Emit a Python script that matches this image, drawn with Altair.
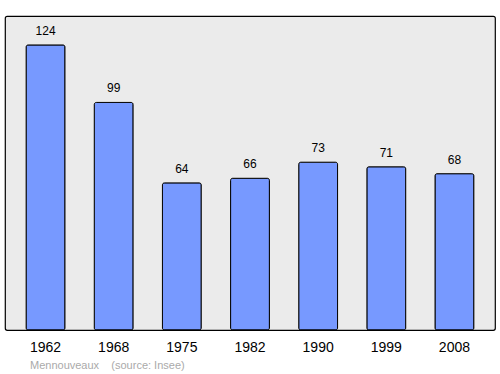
import altair as alt
import pandas as pd

years = ["1962", "1968", "1975", "1982", "1990", "1999", "2008"]
population = [124, 99, 64, 66, 73, 71, 68]

df = pd.DataFrame({"year": years, "pop": population})

FONT = "Liberation Sans"

x = alt.X("year:N", sort=years,
          scale=alt.Scale(paddingInner=0.43, paddingOuter=0.31),
          axis=alt.Axis(title=None, labelAngle=0, ticks=False, domain=False,
                        labelFontSize=14, labelFont=FONT, labelColor="black",
                        labelPadding=10))
y = alt.Y("pop:Q", scale=alt.Scale(domain=[0, 136.6], nice=False, zero=True),
          axis=None)

base = alt.Chart(df).encode(x=x, y=y)

bars = base.mark_bar(color="#7799ff", stroke="black", strokeWidth=1,
                     cornerRadius=2)
labels = base.mark_text(dy=-14, fontSize=12, font=FONT, color="black").encode(
    text="pop:Q")

chart = (bars + labels).properties(
    width=490, height=314,
    background="white",
    title=alt.TitleParams("Mennouveaux\u00a0\u00a0\u00a0\u00a0(source: Insee)",
                          orient="bottom", anchor="start", dx=25, offset=6,
                          fontSize=11, font=FONT, fontWeight="normal",
                          color="#aaaaaa"),
    autosize=alt.AutoSizeParams(type="none"),
    padding={"left": 5, "top": 16, "right": 5, "bottom": 44},
).configure_view(fill="#ebebeb", stroke="black", strokeWidth=1.2,
                 cornerRadius=2)

chart.save("out.html", embed_options={"renderer": "svg", "actions": False})
